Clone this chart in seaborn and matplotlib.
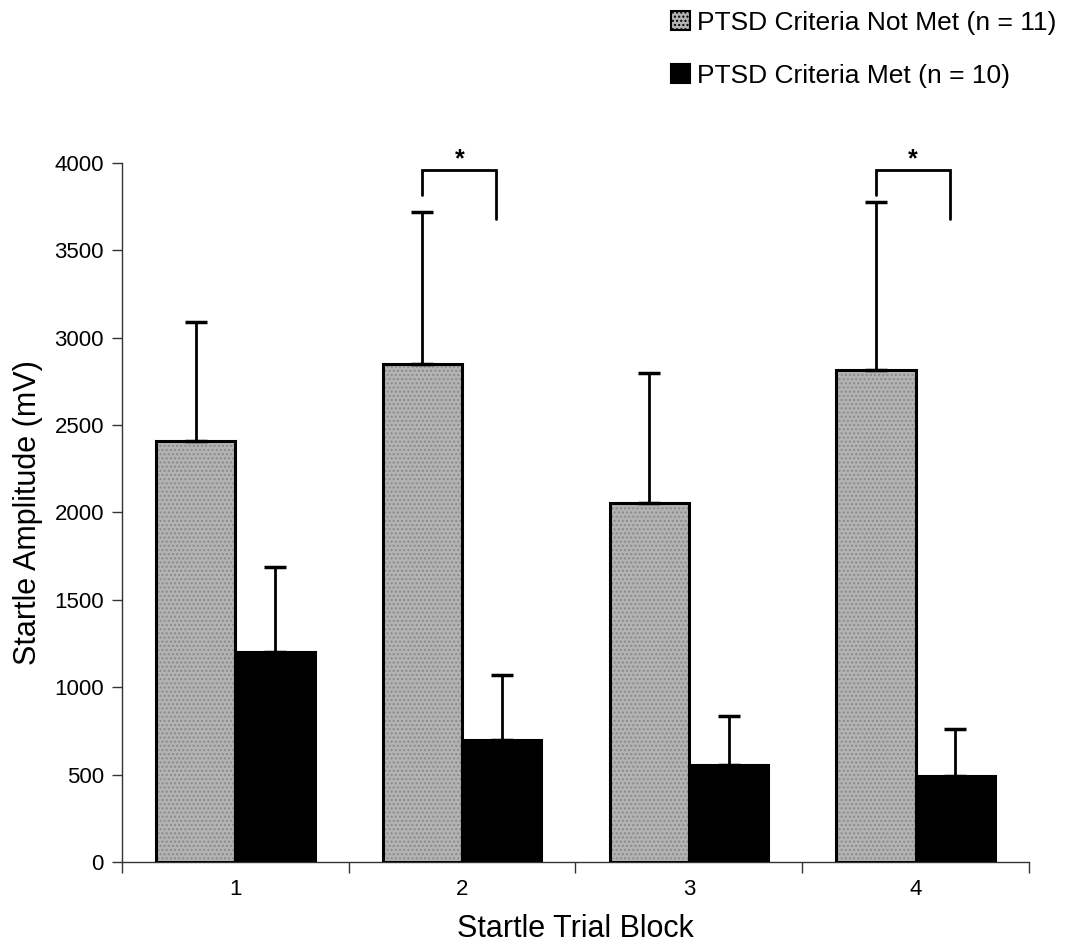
import matplotlib
matplotlib.use("Agg")
import matplotlib.pyplot as plt
from matplotlib.patches import Rectangle, Patch
import seaborn as sns
import pandas as pd
import numpy as np

# ---- data ----
blocks = ["1", "2", "3", "4"]
groups = ["PTSD Criteria Not Met (n = 11)", "PTSD Criteria Met (n = 10)"]
not_met_mean = [2410, 2850, 2055, 2815]
not_met_err = [680, 870, 745, 960]
met_mean = [1200, 700, 555, 490]
met_err = [490, 370, 280, 270]
sig_blocks = ["2", "4"]

df = pd.DataFrame({
    "block": blocks * 2,
    "group": [groups[0]] * 4 + [groups[1]] * 4,
    "value": not_met_mean + met_mean,
})
errs = not_met_err + met_err

sns.set_theme(style="white")
plt.rcParams["font.family"] = ["Liberation Sans", "DejaVu Sans"]
plt.rcParams["text.color"] = "black"
plt.rcParams["axes.labelcolor"] = "black"
plt.rcParams["xtick.color"] = "black"
plt.rcParams["ytick.color"] = "black"

fig = plt.figure(figsize=(10.67, 9.42), dpi=100)
ax = fig.add_axes([0.1143, 0.0849, 0.8501, 0.7421])

gray = "#b3b3b3"
sns.barplot(data=df, x="block", y="value", hue="group", order=blocks,
            hue_order=groups, palette=[gray, "#000000"], width=0.7,
            errorbar=None, ax=ax, legend=False, linewidth=0, saturation=1)

bars = ax.patches[:8]
for i, p in enumerate(bars):
    if i < 4:
        p.set_hatch("....")
        p.set_edgecolor("#8a8a8a")
        p.set_linewidth(0)
    ax.add_patch(Rectangle(p.get_xy(), p.get_width(), p.get_height(),
                           fill=False, ec="black", lw=2.2, zorder=3))

# error bars (upper only)
xs = [p.get_x() + p.get_width() / 2 for p in bars]
hs = [p.get_height() for p in bars]
ax.errorbar(xs, hs, yerr=[np.zeros(8), errs], fmt="none", ecolor="black",
            elinewidth=2, capsize=8, capthick=2.5, zorder=2)

# significance brackets
for b in sig_blocks:
    i = blocks.index(b)
    xl = xs[i]
    xr = xs[i + 4] - 0.025
    ytop = 3960
    ax.plot([xl, xl, xr, xr], [3815, ytop, ytop, 3680], color="black",
            lw=2, clip_on=False, solid_joinstyle="miter")
    ax.text((xl + xr) / 2, ytop - 10, "*", ha="center", va="bottom",
            fontsize=18, fontweight="bold")

ax.set_ylim(0, 4000)
ax.set_xlim(-0.5, 3.5)
ax.set_yticks(np.arange(0, 4001, 500))
ax.tick_params(axis="y", which="major", direction="out", length=7, width=1,
               color="#333333", labelsize=16, pad=6, left=True)
ax.tick_params(axis="x", which="major", length=0, labelsize=16, pad=12)
ax.set_xticks(np.arange(-0.5, 3.6, 1), minor=True)
ax.tick_params(axis="x", which="minor", direction="out", length=8, width=1,
               color="#333333", bottom=True)
for s in ["top", "right"]:
    ax.spines[s].set_visible(False)
for s in ["left", "bottom"]:
    ax.spines[s].set_color("#333333")
    ax.spines[s].set_linewidth(1)

ax.set_xlabel("Startle Trial Block", fontsize=22, labelpad=10)
ax.set_ylabel("Startle Amplitude (mV)", fontsize=22, labelpad=8)

handles = [Patch(facecolor=gray, edgecolor="black", hatch="....", lw=1.5),
           Patch(facecolor="black", edgecolor="black", lw=1.5)]
fig.legend(handles, groups, loc="upper right", bbox_to_anchor=(1.0, 1.0),
           frameon=False, fontsize=19, handlelength=0.75, handleheight=0.75,
           handletextpad=0.25, labelspacing=1.1, borderaxespad=0.0)

fig.savefig("out.png", dpi=100, facecolor="white")
